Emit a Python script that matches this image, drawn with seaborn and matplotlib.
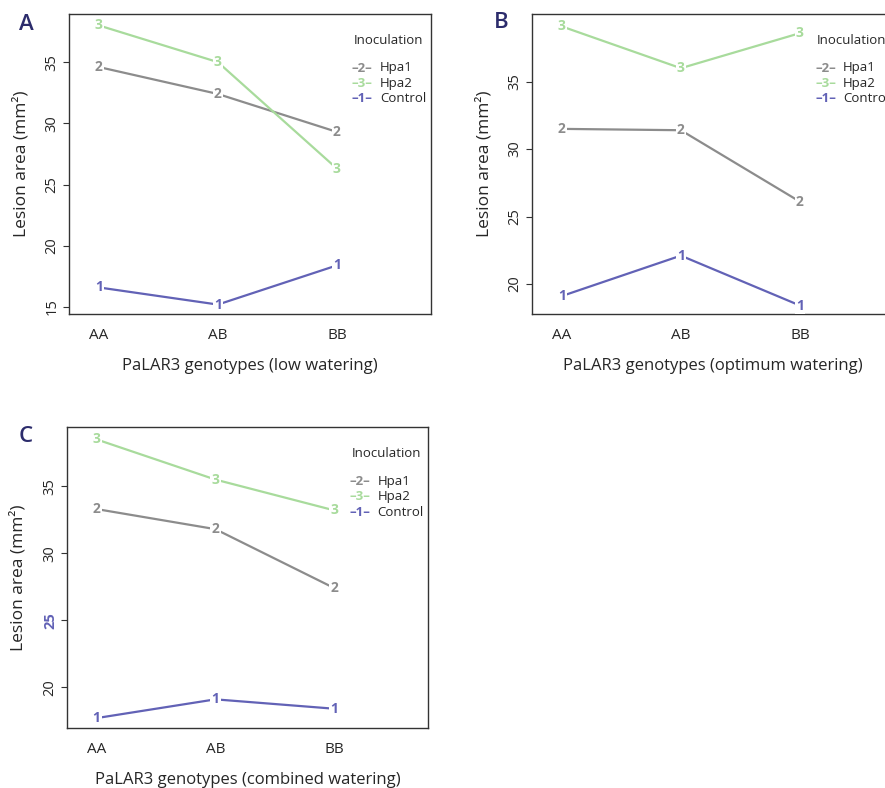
import numpy as np
import pandas as pd
import matplotlib
matplotlib.use("Agg")
import matplotlib.pyplot as plt
import seaborn as sns

# -----------------------
# Data
# -----------------------
genotypes = ["AA", "AB", "BB"]
groups = ["Hpa1", "Hpa2", "Control"]
group_digits = {"Hpa1": "2", "Hpa2": "3", "Control": "1"}

low_hpa1 = [34.6, 32.4, 29.3]
low_hpa2 = [38.0, 35.0, 26.3]
low_control = [16.6, 15.2, 18.4]

opt_hpa1 = [31.5, 31.4, 26.1]
opt_hpa2 = [39.1, 36.0, 38.6]
opt_control = [19.1, 22.1, 18.4]

comb_hpa1 = [33.3, 31.8, 27.4]
comb_hpa2 = [38.5, 35.5, 33.2]
comb_control = [17.7, 19.1, 18.4]

xlabels = ["PaLAR3 genotypes (low watering)",
           "PaLAR3 genotypes (optimum watering)",
           "PaLAR3 genotypes (combined watering)"]
panel_letters = ["A", "B", "C"]
yticks_list = [[15, 20, 25, 30, 35], [20, 25, 30, 35], [20, 25, 30, 35]]
ylims = [(14.43, 38.93), (17.77, 40.02), (16.94, 39.4)]

palette = {"Hpa1": "#8c8c8c", "Hpa2": "#a8db9c", "Control": "#6262b6"}
navy = "#2c2c6c"

# -----------------------
# Style
# -----------------------
sns.set_style("white")
plt.rcParams['font.family'] = ['Open Sans', 'DejaVu Sans']

W, H = 885, 788
fig = plt.figure(figsize=(W / 100, H / 100), dpi=100)

# axes boxes in pixels: left, top, width, height
boxes = [(69, 14, 362, 300), (532, 14, 362, 300), (66.7, 427.3, 361.6, 301)]
letter_pos = [(26, 24), (501, 23), (26, 437)]

panels = [(low_hpa1, low_hpa2, low_control),
          (opt_hpa1, opt_hpa2, opt_control),
          (comb_hpa1, comb_hpa2, comb_control)]

for k, (h1, h2, ctl) in enumerate(panels):
    left, top, w, h = boxes[k]
    ax = fig.add_axes([left / W, 1 - (top + h) / H, w / W, h / H])

    df = pd.DataFrame({
        "pos": np.tile(np.arange(1, 4), 3),
        "area": h1 + h2 + ctl,
        "Inoculation": np.repeat(groups, 3),
    })
    sns.lineplot(data=df, x="pos", y="area", hue="Inoculation",
                 palette=palette, legend=False, lw=1.6, ax=ax, sort=False)

    # digit markers with a gap in the line
    for _, row in df.iterrows():
        ax.text(row["pos"], row["area"], group_digits[row["Inoculation"]],
                color=palette[row["Inoculation"]], fontsize=10, fontweight="bold",
                ha="center", va="center", zorder=5,
                bbox=dict(facecolor="white", edgecolor="none", pad=1.0))

    ax.set_xlim(0.75, 3.79)
    ax.set_ylim(*ylims[k])
    ax.set_xticks([1, 2, 3])
    ax.set_xticklabels(genotypes, fontsize=11)
    ax.set_yticks(yticks_list[k])
    ax.set_yticklabels([str(v) for v in yticks_list[k]], fontsize=10.5)
    for lab in ax.get_yticklabels():
        lab.set_rotation(90)
        lab.set_va("center")
        lab.set_ha("right")
    if k == 2:
        for lab in ax.get_yticklabels():
            if lab.get_text() == "25":
                lab.set_color(palette["Control"])
                lab.set_fontweight("bold")

    ax.tick_params(axis="x", length=0, pad=10)
    ax.tick_params(axis="y", length=4.5, width=0.8, pad=2.5, color="#333333",
                   left=True)
    for sp in ax.spines.values():
        sp.set_visible(True)
        sp.set_color("#333333")
        sp.set_linewidth(1.0)

    ax.set_xlabel(xlabels[k], fontsize=12)
    ax.set_ylabel("Lesion area (mm²)", fontsize=12.5)
    ax.xaxis.set_label_coords(0.5, -52 / h)
    ax.xaxis.label.set_va("center")
    ax.yaxis.set_label_coords(-48 / w, 0.5)
    ax.yaxis.label.set_va("center")

    # legend drawn as text, R interaction.plot style
    lx = 283 / w
    ax.text(lx + 2 / w, 1 - 26 / h, "Inoculation", transform=ax.transAxes,
            fontsize=9.5, ha="left", va="center")
    for j, g in enumerate(groups):
        yy = 1 - (54 + 15.5 * j) / h
        ax.text(lx, yy, "–" + group_digits[g] + "–", transform=ax.transAxes,
                color=palette[g], fontsize=9.5, fontweight="bold",
                ha="left", va="center")
        ax.text(lx + 28 / w, yy, g, transform=ax.transAxes,
                fontsize=9.5, ha="left", va="center")

    fig.text(letter_pos[k][0] / W, 1 - letter_pos[k][1] / H, panel_letters[k],
             color=navy, fontsize=16, fontweight="semibold",
             ha="center", va="center")

fig.savefig("out.png", dpi=100)
